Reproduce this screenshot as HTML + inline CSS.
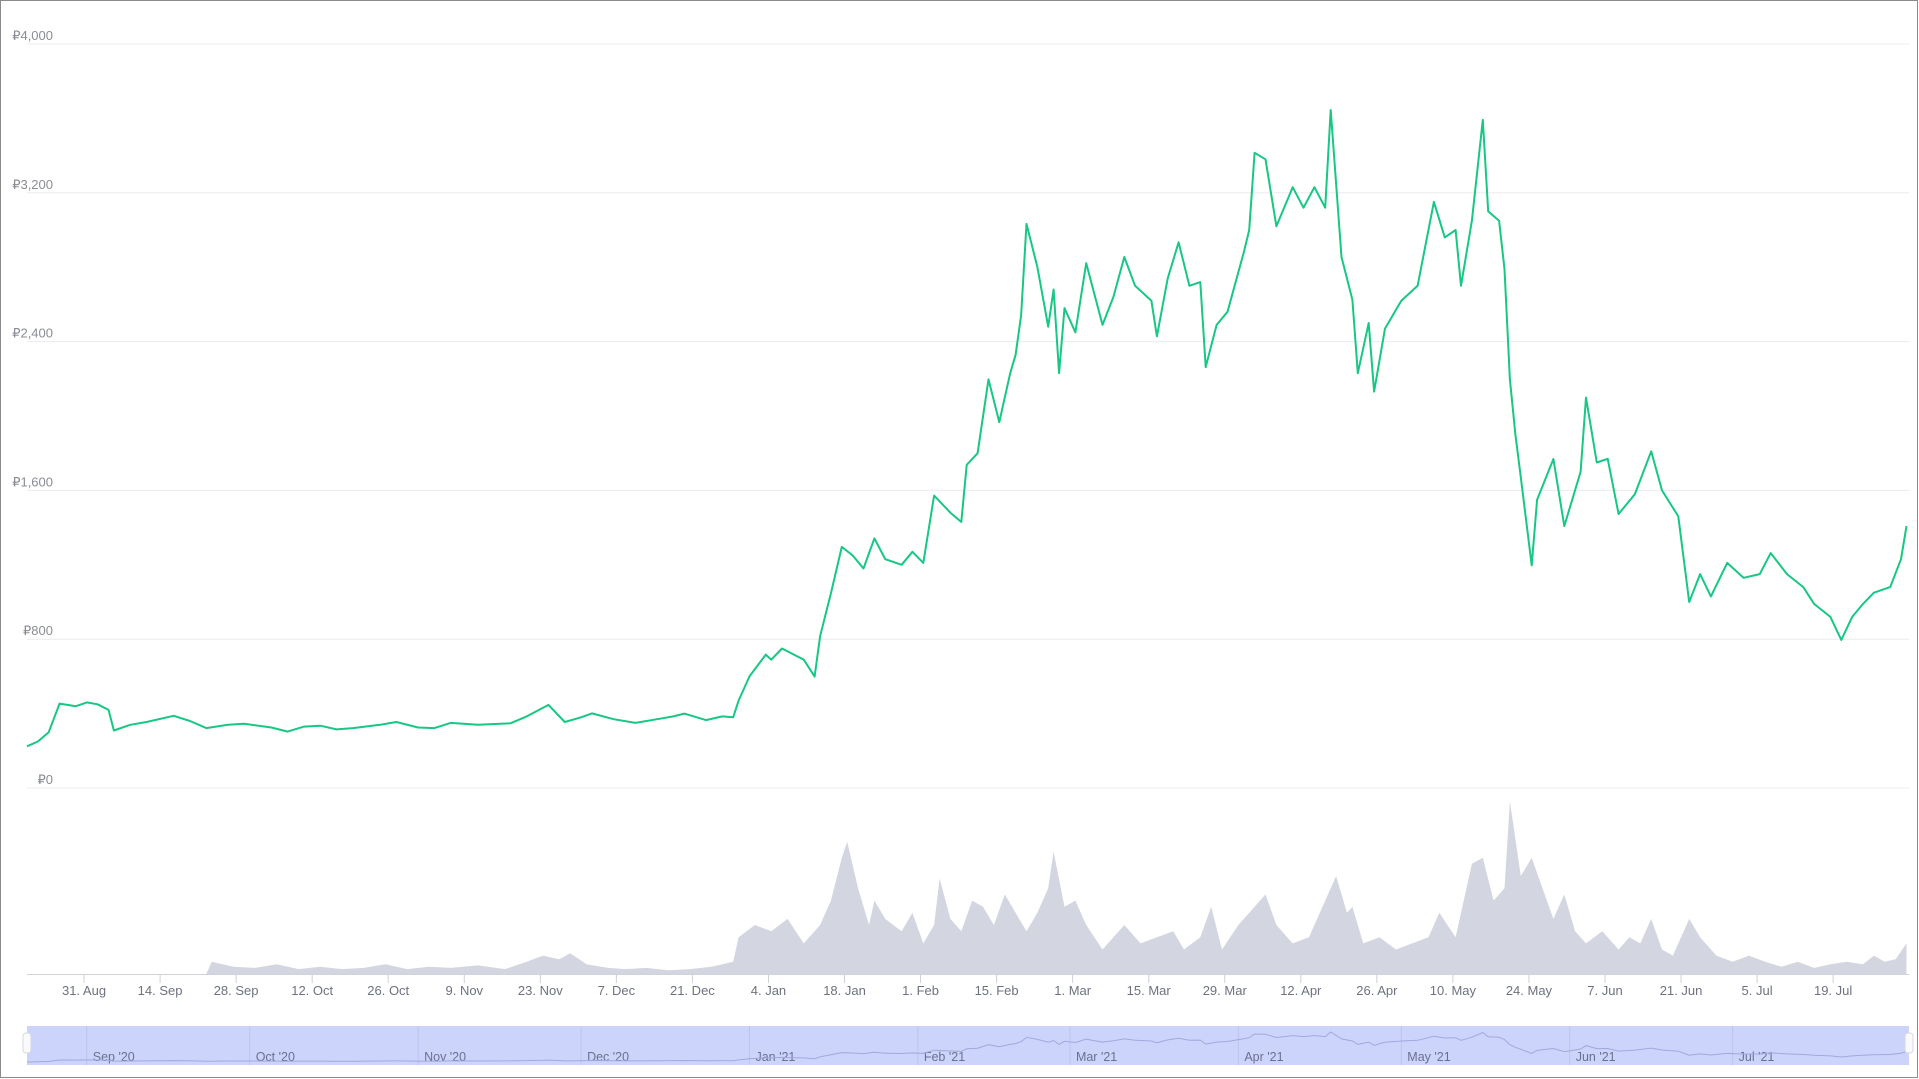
<!DOCTYPE html>
<html><head><meta charset="utf-8"><style>
html,body{margin:0;padding:0;background:#fff;}
svg{display:block;font-family:"Liberation Sans",sans-serif;}
</style></head><body>
<svg id="chart" width="1919" height="1079" viewBox="0 0 1919 1079" xmlns="http://www.w3.org/2000/svg">
<rect x="0.5" y="0.5" width="1917" height="1077" fill="#fff" stroke="#8a8a8a"/>
<g id="grid"></g>
<g id="ylabels"></g>
<g id="vol"></g>
<g id="price"></g>
<g id="xaxis"></g>
<g id="nav"></g>
</svg>
<script>
const days=[0,2,4,6,9,11,13,15,16,19,22,27,30,33,37,40,45,48,51,54,57,60,65,68,72,75,78,83,89,92,96,99,102,104,108,112,116,119,121,125,128,130,131,133,136,137,139,141,143,145,146,148,150,152,154,156,158,161,163,165,167,170,172,173,175,177,179,181,182,183,184,186,188,189,190,191,193,195,198,200,202,204,207,208,210,212,214,216,217,219,221,224,225,226,228,230,233,235,237,239,240,242,244,245,247,248,250,253,256,259,261,263,264,266,268,269,271,272,273,274,275,277,278,281,283,286,287,289,291,293,296,299,301,304,306,308,310,313,316,319,321,324,327,329,332,334,336,338,340,343,345,346];
const prices=[224,250,300,454,440,460,450,420,309,340,355,388,360,322,340,345,325,303,330,335,315,322,340,355,325,322,350,340,348,385,447,355,380,401,370,350,370,385,400,365,385,380,470,600,717,690,750,720,690,599,816,1046,1296,1250,1180,1342,1230,1200,1270,1210,1572,1480,1430,1737,1800,2197,1967,2230,2329,2540,3033,2800,2480,2680,2230,2580,2450,2822,2490,2640,2855,2700,2620,2428,2740,2934,2700,2720,2263,2490,2560,2880,3000,3415,3380,3020,3230,3120,3230,3120,3645,2855,2625,2230,2500,2131,2470,2620,2700,3151,2960,3000,2700,3050,3592,3100,3050,2789,2197,1900,1671,1197,1550,1769,1408,1700,2099,1750,1770,1473,1580,1810,1600,1460,1000,1150,1030,1210,1130,1150,1263,1150,1080,990,920,796,920,990,1050,1080,1230,1408];
const volDays=[0,33,34,38,42,46,50,54,58,62,66,70,74,78,83,88,92,95,98,100,103,107,110,114,118,122,126,130,131,134,137,140,143,146,148,150,151,153,155,156,158,161,163,165,167,168,170,172,174,176,178,180,182,184,186,188,189,191,193,195,198,200,202,205,208,211,213,216,218,220,223,226,228,230,233,236,239,241,243,244,246,249,252,255,258,260,263,266,268,270,272,273,275,277,279,281,283,285,287,290,293,295,297,299,301,303,306,308,311,314,317,320,323,326,329,332,335,338,340,342,344,346];
const volumes=[0,0,10,6,5,8,4,6,4,5,8,4,6,5,7,4,10,15,12,17,8,5,4,5,3,4,6,10,30,40,35,45,25,40,60,95,108,70,40,60,45,35,50,25,40,78,45,35,60,55,40,65,50,35,50,70,100,55,60,40,20,30,40,25,30,35,20,30,55,20,40,55,65,40,25,30,60,80,50,55,25,30,20,25,30,50,30,90,95,60,70,141,80,95,70,45,65,35,25,35,20,30,25,45,20,15,45,30,15,10,15,10,6,10,5,8,10,8,15,10,12,25];
const yTicks=[0,800,1600,2400,3200,4000];
const yTickLabels=["₽0","₽800","₽1,600","₽2,400","₽3,200","₽4,000"];
const xTickLabels=["31. Aug","14. Sep","28. Sep","12. Oct","26. Oct","9. Nov","23. Nov","7. Dec","21. Dec","4. Jan","18. Jan","1. Feb","15. Feb","1. Mar","15. Mar","29. Mar","12. Apr","26. Apr","10. May","24. May","7. Jun","21. Jun","5. Jul","19. Jul"];
const navMonthDays=[11,41,72,102,133,164,192,223,253,284,314];
const navMonthLabels=["Sep '20","Oct '20","Nov '20","Dec '20","Jan '21","Feb '21","Mar '21","Apr '21","May '21","Jun '21","Jul '21"];

const NS="http://www.w3.org/2000/svg";
const X0=27,X1=1909,PXD=5.432;
function x(d){return X0+d*PXD;}
function y(p){return 788-p*(744/4000);}
function yv(v){return 974-v*1.224;}
function yn(p){return 1064-p*(32/3645);}
function mk(tag,attrs,parent){const e=document.createElementNS(NS,tag);for(const k in attrs)e.setAttribute(k,attrs[k]);parent.appendChild(e);return e;}

const grid=document.getElementById('grid'),yl=document.getElementById('ylabels');
yTicks.forEach((t,i)=>{
  const l=mk('line',{x1:X0,x2:X1,y1:y(t),y2:y(t),stroke:'#ececf0','stroke-width':1},grid);
  
  
  const tx=mk('text',{x:53,y:y(t)-4,'text-anchor':'end','font-size':13,fill:'#8a8d94'},yl);
  tx.textContent=yTickLabels[i];
  
  
});

// volume area
let vd='M'+x(volDays[0])+','+yv(0);
volDays.forEach((d,i)=>{vd+=' L'+x(d).toFixed(1)+','+yv(volumes[i]).toFixed(1);});
vd+=' L'+x(volDays[volDays.length-1])+','+yv(0)+' Z';
const va=mk('path',{d:vd,fill:'#d3d6e0',stroke:'none'},document.getElementById('vol'));



// price line
let pd='';
days.forEach((d,i)=>{pd+=(i?' L':'M')+x(d).toFixed(1)+','+y(prices[i]).toFixed(1);});
const pl=mk('path',{d:pd,fill:'none',stroke:'#17c784','stroke-width':2,'stroke-linejoin':'round'},document.getElementById('price'));



// x axis
const xa=document.getElementById('xaxis');
const base=mk('line',{x1:X0,x2:X1,y1:974.5,y2:974.5,stroke:'#d0d3dc'},xa);


xTickLabels.forEach((lab,i)=>{
  const d=10.5+14*i;
  const tk=mk('line',{x1:x(d),x2:x(d),y1:975,y2:983,stroke:'#ccd0d8'},xa);
  
  
  const tx=mk('text',{x:x(d),y:995,'text-anchor':'middle','font-size':13,fill:'#6e7280'},xa);
  tx.textContent=lab;
  
  
});

// navigator
const nav=document.getElementById('nav');
const nr=mk('rect',{x:X0,y:1026,width:X1-X0,height:39,fill:'#cdd4fb'},nav);


navMonthDays.forEach((d,i)=>{
  const l=mk('line',{x1:x(d),x2:x(d),y1:1026,y2:1065,stroke:'#bcc4ee'},nav);
  
  
  const t=mk('text',{x:x(d)+6,y:1061,'font-size':12.5,fill:'#6b7090'},nav);
  t.textContent=navMonthLabels[i];
  
  
});
let nd='';
days.forEach((d,i)=>{nd+=(i?' L':'M')+x(d).toFixed(1)+','+yn(prices[i]).toFixed(1);});
const nl=mk('path',{d:nd,fill:'none',stroke:'#9fa9dc','stroke-width':1},nav);


[X0,X1].forEach((hx,i)=>{
  const h=mk('rect',{x:hx-4,y:1033,width:8,height:20,rx:3,fill:'#fafafa',stroke:'#d5d8e6'},nav);
  
  
});
</script>
</body></html>
